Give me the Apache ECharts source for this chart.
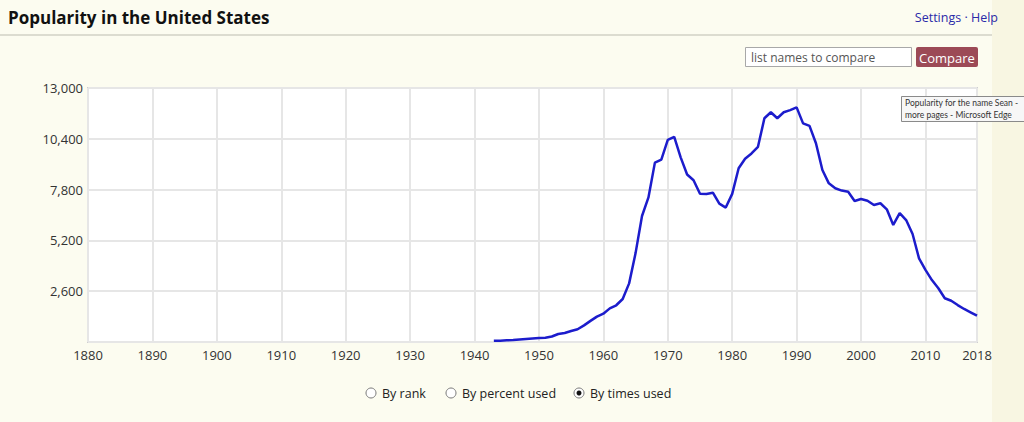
<!DOCTYPE html>
<html>
<head>
<meta charset="utf-8">
<script src="https://cdn.jsdelivr.net/npm/echarts@6/dist/echarts.min.js"></script>
<style>
html,body{margin:0;padding:0;background:#fcfcf0;}
#chart{width:1024px;height:422px;}
</style>
</head>
<body>
<div id="chart"></div>
<script>
// Years and number of babies named Sean (by times used)
const years = [1943,1944,1945,1946,1947,1948,1949,1950,1951,1952,1953,1954,1955,1956,1957,1958,1959,1960,
  1961,1962,1963,1964,1965,1966,1967,1968,1969,1970,1971,1972,1973,1974,1975,1976,1977,1978,1979,1980,
  1981,1982,1983,1984,1985,1986,1987,1988,1989,1990,1991,1992,1993,1994,1995,1996,1997,1998,1999,2000,
  2001,2002,2003,2004,2005,2006,2007,2008,2009,2010,2011,2012,2013,2014,2015,2016,2017,2018];
const timesUsed = [60,70,85,100,125,150,175,200,215,280,410,460,560,650,850,1080,1300,1450,
  1720,1880,2200,3000,4550,6450,7400,9180,9330,10340,10500,9450,8570,8280,7590,7580,7640,7080,6880,7580,
  8890,9380,9650,9990,11450,11760,11450,11760,11870,12010,11190,11060,10170,8800,8120,7870,7750,7690,7220,7320,
  7230,7010,7100,6790,5990,6600,6240,5530,4280,3690,3170,2750,2240,2110,1890,1690,1520,1350];
const yTicks = [0,2600,5200,7800,10400,13000];
const radioLabels = ['By rank','By percent used','By times used'];

const FONT = '"Open Sans", "Noto Sans", sans-serif';
const chart = echarts.init(document.getElementById('chart'), null, {renderer:'svg'});

const radioX = [371, 451, 579];
const radios = [];
radioLabels.forEach((t,i)=>{
  radios.push({type:'circle', shape:{cx:radioX[i], cy:393, r:5}, style:{fill:'#fff', stroke:'#777', lineWidth:1}});
  if (i === 2) radios.push({type:'circle', shape:{cx:radioX[i], cy:393, r:2.5}, style:{fill:'#111'}});
  radios.push({type:'text', x:radioX[i]+11, y:393, style:{text:t, font:'12.5px '+FONT, fill:'#222', textVerticalAlign:'middle'}});
});

chart.setOption({
  backgroundColor:'#fcfcf0',
  animation:false,
  grid:{left:88, right:47, top:88, bottom:80, show:true, backgroundColor:'#ffffff', borderColor:'#cfcfcf', borderWidth:2},
  xAxis:{type:'value', min:1880, max:2018, interval:10,
    axisLine:{show:false}, axisTick:{show:false},
    splitLine:{show:true, lineStyle:{color:'#e6e6e6', width:2}},
    axisLabel:{formatter:v=>String(v), color:'#333', fontSize:13, fontFamily:FONT, margin:6}},
  yAxis:{type:'value', min:yTicks[0], max:yTicks[yTicks.length-1], interval:yTicks[1]-yTicks[0],
    axisLine:{show:false}, axisTick:{show:false},
    splitLine:{show:true, lineStyle:{color:'#e6e6e6', width:2}},
    axisLabel:{formatter:v=> v===0 ? '' : v.toLocaleString('en-US'), color:'#333', fontSize:13, fontFamily:FONT, margin:5}},
  series:[{type:'line', data:years.map((y,i)=>[y,timesUsed[i]]), showSymbol:false, symbol:'none',
    lineStyle:{color:'#1c1ccc', width:2.5}}],
  graphic:[
    {type:'rect', shape:{x:992, y:0, width:32, height:422}, style:{fill:'#f8f6e2'}, z:-1},
    {type:'text', x:8, y:17, style:{text:'Popularity in the United States', font:'bold 17px '+FONT, fill:'#111', textVerticalAlign:'middle'}},
    {type:'text', x:998, y:17, style:{text:'Settings · Help', font:'12.5px '+FONT, fill:'#2a2aa8', textAlign:'right', textVerticalAlign:'middle'}},
    {type:'rect', shape:{x:0, y:34, width:992, height:2}, style:{fill:'#dcdcd0'}},
    {type:'rect', shape:{x:745.5, y:47.5, width:166, height:19}, style:{fill:'#fff', stroke:'#a8a8a8', lineWidth:1}},
    {type:'text', x:751, y:57.5, style:{text:'list names to compare', font:'12px '+FONT, fill:'#555', textVerticalAlign:'middle'}},
    {type:'rect', shape:{x:916, y:47, width:62, height:20, r:2}, style:{fill:'#9c4a56'}},
    {type:'text', x:947, y:57.5, style:{text:'Compare', font:'13px '+FONT, fill:'#fff', textAlign:'center', textVerticalAlign:'middle'}},
    {type:'rect', shape:{x:901.5, y:96.5, width:130, height:25}, style:{fill:'#f7f7f7', stroke:'#8a8a8a', lineWidth:1}, z:100},
    {type:'text', x:905, y:103, style:{text:'Popularity for the name Sean -', font:'8.5px Lato, "Noto Sans", sans-serif', fill:'#333', textVerticalAlign:'middle'}, z:101},
    {type:'text', x:905, y:115, style:{text:'more pages - Microsoft Edge', font:'8.5px Lato, "Noto Sans", sans-serif', fill:'#333', textVerticalAlign:'middle'}, z:101},
  ].concat(radios)
});
</script>
</body>
</html>
